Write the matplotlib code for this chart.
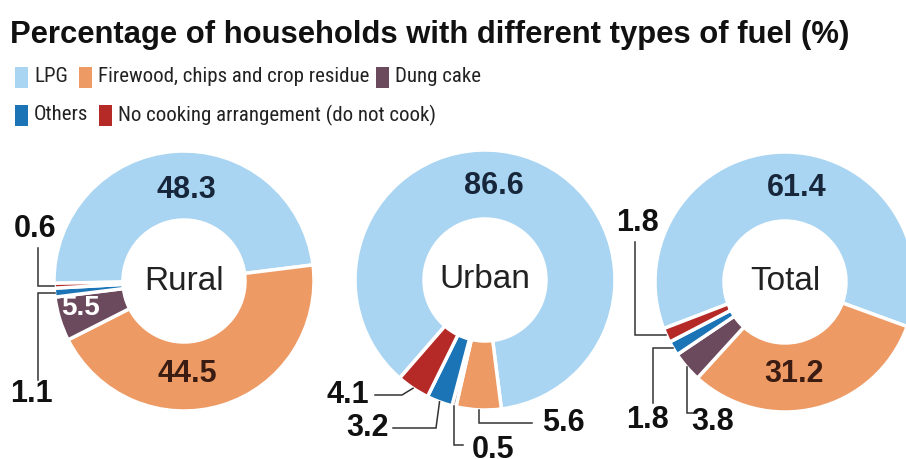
import matplotlib.pyplot as plt
from matplotlib.patches import Rectangle
import numpy as np

W, H = 906, 459

# data
categories = ['LPG', 'Firewood, chips and crop residue', 'Dung cake',
              'Others', 'No cooking arrangement (do not cook)']
colors = ['#a9d5f2', '#ee9a64', '#6c4a5e', '#1a74b6', '#b52a27']
areas = ['Rural', 'Urban', 'Total']
rural = [48.3, 44.5, 5.5, 1.1, 0.6]
urban = [86.6, 5.6, 0.5, 3.2, 4.1]
total = [61.4, 31.2, 3.8, 1.8, 1.8]

FONT = ['Liberation Sans', 'DejaVu Sans']
NARROW = ['Roboto Condensed', 'Liberation Sans Narrow', 'DejaVu Sans']

fig = plt.figure(figsize=(W / 100, H / 100), dpi=100)
ax = fig.add_axes([0, 0, 1, 1])

R, RIN = 130, 61


def py(y):
    # pixel row -> data y
    return H - y


def ring(vals, cx, cy, start, name):
    wedges, _ = ax.pie(vals, colors=colors, center=(cx, py(cy)), radius=R,
                       startangle=start, counterclock=False, normalize=True,
                       wedgeprops=dict(width=R - RIN, edgecolor='white', linewidth=2.5))
    ax.text(cx, py(cy), name, ha='center', va='center', fontsize=24,
            family=FONT, color='#222222')
    return wedges


def anchor(w, frac=1.0):
    a = np.deg2rad((w.theta1 + w.theta2) / 2)
    x = w.center[0] + w.r * frac * np.cos(a)
    y = w.center[1] + w.r * frac * np.sin(a)
    return x, H - y


def num(x, y, s, color='#111111', size=22):
    ax.text(x, py(y), s, ha='center', va='center', fontsize=size,
            fontweight='bold', family=FONT, color=color)


def leader(start, w, mode, mid=None):
    ax_, ay_ = anchor(w)
    sx, sy = start
    if mode == 'h':
        pts = [(sx, sy), (sx, ay_), (ax_, ay_)]
    elif mode == 'v':
        pts = [(sx, sy), (ax_, sy), (ax_, ay_)]
    else:
        pts = [(sx, sy), mid, (ax_, ay_)]
    xs = [p[0] for p in pts]
    ys = [py(p[1]) for p in pts]
    ax.plot(xs, ys, color='#333333', lw=1.1, solid_joinstyle='miter')


NAVY = '#17263b'
BROWN = '#3b1c12'

# Rural
wr = ring(rural, 184, 281, 181, areas[0])
num(186, 190, f'{rural[0]}', NAVY)
num(187, 374, f'{rural[1]}', BROWN)
num(80, 308, f'{rural[2]}', 'white', 20)
num(35, 229, f'{rural[4]}')
num(31, 394, f'{rural[3]}')
leader((38, 248), wr[4], 'h')
leader((38, 380), wr[3], 'h')

# Urban
wu = ring(urban, 485, 280, -131, areas[1])
num(494, 186, f'{urban[0]}', NAVY)
num(348, 395, f'{urban[4]}')
num(368, 428, f'{urban[3]}')
num(493, 450, f'{urban[2]}')
num(563, 423, f'{urban[1]}')
leader((375, 395), wu[4], 'm', (402, 395))
leader((393, 428), wu[3], 'm', (436, 428))
leader((463, 445), wu[2], 'v')
leader((532, 423), wu[1], 'v')

# Total
wt = ring(total, 785, 282, -159, areas[2])
num(797, 188, f'{total[0]}', NAVY)
num(794, 374, f'{total[1]}', BROWN)
num(637, 223, f'{total[4]}')
num(648, 420, f'{total[3]}')
num(713, 422, f'{total[2]}')
leader((635, 242), wt[4], 'h')
leader((653, 403), wt[3], 'h')
leader((693, 413), wt[2], 'v')

# title
ax.text(10, py(43), 'Percentage of households with different types of fuel (%)',
        ha='left', va='baseline', fontsize=22.3, fontweight='bold', family=FONT,
        color='#111111')

# legend
leg_pos = [(15, 77), (79, 77), (376, 77), (15, 115), (99, 115)]
for (lx, ly), lab, c in zip(leg_pos, categories, colors):
    ax.add_patch(Rectangle((lx, py(ly + 10.5)), 13, 21, color=c, lw=0))
    ax.text(lx + 19, py(ly), lab, ha='left', va='center', fontsize=15,
            family=NARROW, fontstretch='condensed', color='#222222')

ax.set_xlim(0, W)
ax.set_ylim(0, H)
ax.set_aspect('equal')
ax.axis('off')

fig.savefig('out.png', dpi=100, facecolor='white')
